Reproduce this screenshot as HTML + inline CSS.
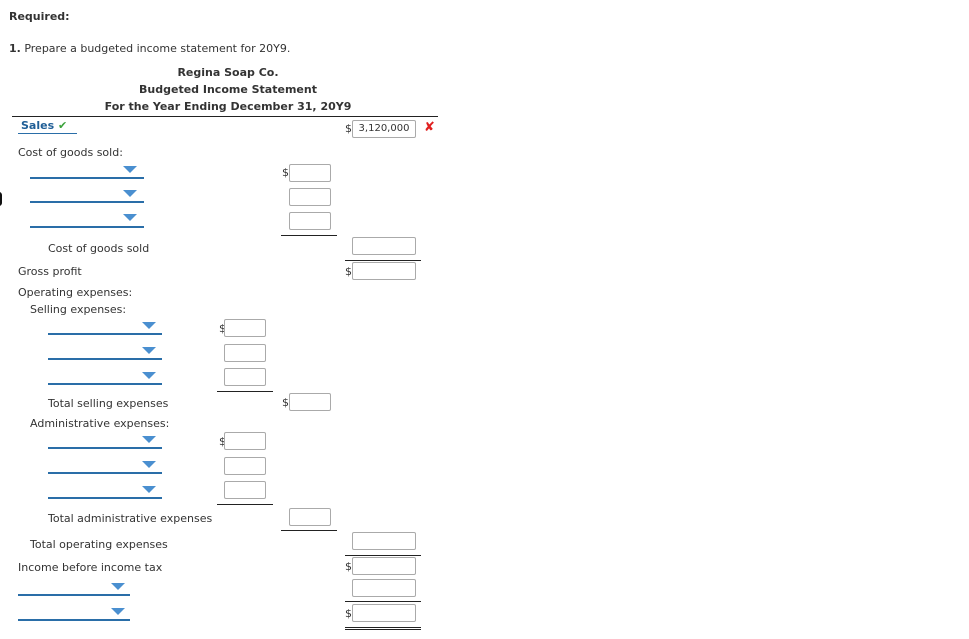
<!DOCTYPE html>
<html><head><style>
body{margin:0;width:969px;height:639px;background:#fff;position:relative;font-family:"DejaVu Sans","Liberation Sans",sans-serif;font-size:11px;color:#333;overflow:hidden}
.t{position:absolute;white-space:nowrap;line-height:13px}
.b{font-weight:bold}
.bx{position:absolute;width:40px;height:16px;border:1px solid #aaa;border-radius:2px;background:#fff}
.bw{width:62px}
.dl{position:absolute;height:0;border-top:2px solid #2a6ea8}
.ar{position:absolute;width:0;height:0;border-left:7px solid transparent;border-right:7px solid transparent;border-top:7px solid #4a8fd0}
.ln{position:absolute;height:0;border-top:1px solid #222}
.d{position:absolute;font-size:11px}
</style></head><body>
<div class="t b" style="left:9px;top:10px">Required:</div>
<div class="t" style="left:9px;top:42px"><b>1.</b> Prepare a budgeted income statement for 20Y9.</div>
<div class="t b" style="left:0;width:456px;text-align:center;top:66px">Regina Soap Co.</div>
<div class="t b" style="left:0;width:456px;text-align:center;top:83px">Budgeted Income Statement</div>
<div class="t b" style="left:0;width:456px;text-align:center;top:100px">For the Year Ending December 31, 20Y9</div>
<div class="ln" style="left:12px;width:426px;top:116px"></div>
<div class="t b" style="left:21px;top:119px;color:#1f5e96">Sales <span style="color:#3aa23a">✔</span></div>
<div class="dl" style="left:18px;width:59px;top:133px;border-top-width:1px"></div>
<div class="d" style="left:345px;top:122px">$</div>
<div class="bx bw" style="left:352px;top:120px;text-align:center;line-height:16px;font-size:10px">3,120,000</div>
<div class="t b" style="left:424px;top:121px;color:#e02020;font-size:13px">✘</div>
<div class="t" style="left:18px;top:146px">Cost of goods sold:</div>
<div style="position:absolute;left:-4px;top:192px;width:6px;height:14px;border-radius:3px;background:#111"></div>

<div class="dl" style="left:30px;width:114px;top:177px"></div><div class="ar" style="left:123px;top:166px"></div>
<div class="dl" style="left:30px;width:114px;top:201px"></div><div class="ar" style="left:123px;top:190px"></div>
<div class="dl" style="left:30px;width:114px;top:226px"></div><div class="ar" style="left:123px;top:214px"></div>
<div class="d" style="left:282px;top:166px">$</div>
<div class="bx" style="left:289px;top:164px"></div>
<div class="bx" style="left:289px;top:188px"></div>
<div class="bx" style="left:289px;top:212px"></div>
<div class="ln" style="left:281px;width:56px;top:235px"></div>

<div class="t" style="left:48px;top:242px">Cost of goods sold</div>
<div class="bx bw" style="left:352px;top:237px"></div>
<div class="ln" style="left:345px;width:76px;top:260px"></div>
<div class="t" style="left:18px;top:265px">Gross profit</div>
<div class="d" style="left:345px;top:265px">$</div>
<div class="bx bw" style="left:352px;top:262px"></div>
<div class="t" style="left:18px;top:286px">Operating expenses:</div>
<div class="t" style="left:30px;top:303px">Selling expenses:</div>

<div class="dl" style="left:48px;width:114px;top:333px"></div><div class="ar" style="left:142px;top:322px"></div>
<div class="dl" style="left:48px;width:114px;top:358px"></div><div class="ar" style="left:142px;top:347px"></div>
<div class="dl" style="left:48px;width:114px;top:383px"></div><div class="ar" style="left:142px;top:372px"></div>
<div class="d" style="left:219px;top:322px">$</div>
<div class="bx" style="left:224px;top:319px"></div>
<div class="bx" style="left:224px;top:344px"></div>
<div class="bx" style="left:224px;top:368px"></div>
<div class="ln" style="left:217px;width:56px;top:391px"></div>
<div class="t" style="left:48px;top:397px">Total selling expenses</div>
<div class="d" style="left:282px;top:396px">$</div>
<div class="bx" style="left:289px;top:393px"></div>
<div class="t" style="left:30px;top:417px">Administrative expenses:</div>

<div class="dl" style="left:48px;width:114px;top:447px"></div><div class="ar" style="left:142px;top:436px"></div>
<div class="dl" style="left:48px;width:114px;top:472px"></div><div class="ar" style="left:142px;top:461px"></div>
<div class="dl" style="left:48px;width:114px;top:497px"></div><div class="ar" style="left:142px;top:486px"></div>
<div class="d" style="left:219px;top:435px">$</div>
<div class="bx" style="left:224px;top:432px"></div>
<div class="bx" style="left:224px;top:457px"></div>
<div class="bx" style="left:224px;top:481px"></div>
<div class="ln" style="left:217px;width:56px;top:504px"></div>
<div class="t" style="left:48px;top:512px">Total administrative expenses</div>
<div class="bx" style="left:289px;top:508px"></div>
<div class="ln" style="left:281px;width:56px;top:530px"></div>
<div class="t" style="left:30px;top:538px">Total operating expenses</div>
<div class="bx bw" style="left:352px;top:532px"></div>
<div class="ln" style="left:345px;width:76px;top:555px"></div>
<div class="t" style="left:18px;top:561px">Income before income tax</div>
<div class="d" style="left:345px;top:560px">$</div>
<div class="bx bw" style="left:352px;top:557px"></div>
<div class="dl" style="left:18px;width:112px;top:594px"></div><div class="ar" style="left:111px;top:583px"></div>
<div class="bx bw" style="left:352px;top:579px"></div>
<div class="ln" style="left:345px;width:76px;top:601px"></div>
<div class="dl" style="left:18px;width:112px;top:619px"></div><div class="ar" style="left:111px;top:608px"></div>
<div class="d" style="left:345px;top:607px">$</div>
<div class="bx bw" style="left:352px;top:604px"></div>
<div class="ln" style="left:345px;width:76px;top:627px;border-top:3px double #222"></div>
</body></html>
